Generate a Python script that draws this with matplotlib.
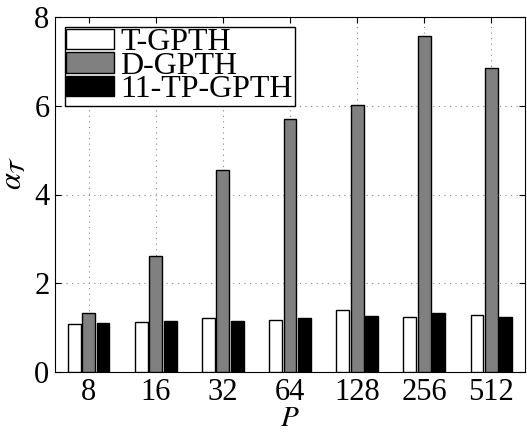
import numpy as np
import matplotlib
matplotlib.use("Agg")
import matplotlib.pyplot as plt

plt.rcParams['font.family'] = ['Liberation Serif', 'DejaVu Serif']
plt.rcParams['mathtext.fontset'] = 'stix'

procs = ['8', '16', '32', '64', '128', '256', '512']
t_gpth = [1.08, 1.13, 1.21, 1.18, 1.39, 1.25, 1.29]
d_gpth = [1.34, 2.61, 4.55, 5.70, 6.02, 7.58, 6.86]
tp_gpth = [1.11, 1.15, 1.16, 1.22, 1.27, 1.34, 1.25]

x = np.arange(1, len(procs) + 1)
w = 0.19
off = 0.215

fig = plt.figure(figsize=(5.27, 4.34), dpi=100)
ax = fig.add_axes([55/527, 1 - 372/434, 470/527, 355/434])

ax.bar(x - off, t_gpth, w, color='white', edgecolor='black', linewidth=1, label='T-GPTH', zorder=3)
ax.bar(x, d_gpth, w, color='#808080', edgecolor='black', linewidth=1, label='D-GPTH', zorder=3)
ax.bar(x + off, tp_gpth, w, color='black', edgecolor='black', linewidth=1, label='11-TP-GPTH', zorder=3)

ax.set_xlim(0.5, 7.5)
ax.set_ylim(0, 8)
ax.set_xticks(x)
ax.set_xticklabels(procs)
ax.set_yticks([0, 2, 4, 6, 8])
ax.tick_params(direction='in', labelsize=22, length=4, top=True, right=True, pad=4)
ax.grid(True, linestyle=(0, (1, 4)), color='#888888', linewidth=0.8, zorder=0)
ax.set_xlabel('$P$', fontsize=21, labelpad=-0.5)
ax.set_ylabel(r'$\alpha_{\mathcal{T}}$', fontsize=22)
ax.yaxis.set_label_coords(-0.055, 0.56)

leg = ax.legend(loc='upper left', fontsize=23, frameon=True, fancybox=False,
                edgecolor='black', framealpha=1, borderpad=0.05, labelspacing=-0.17,
                handlelength=1.5, handleheight=0.6, handletextpad=0.2,
                borderaxespad=0.3)
leg.get_frame().set_linewidth(1)

fig.savefig('out.png', dpi=100)
